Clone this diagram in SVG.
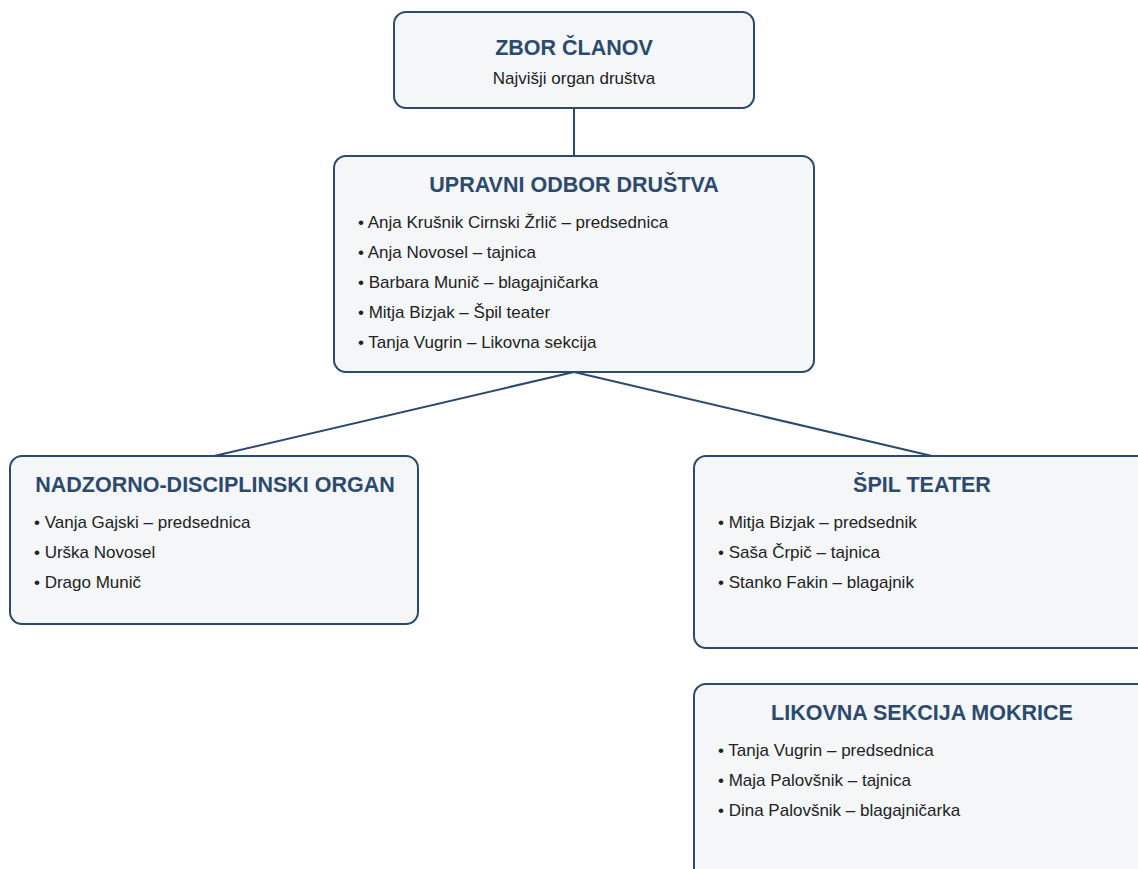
<svg xmlns="http://www.w3.org/2000/svg" width="1138" height="869" viewBox="0 0 1138 869">
<style>
.box{fill:#f4f6f8;stroke:#2c4a6e;stroke-width:2}
.title{font-family:"Liberation Sans",Arial,sans-serif;font-weight:bold;font-size:21.5px;fill:#2c4a6e;text-anchor:middle}
.sub{font-family:"Liberation Sans",Arial,sans-serif;font-size:17px;fill:#222}
.item{font-family:"Liberation Sans",Arial,sans-serif;font-size:17px;fill:#222}
.conn{stroke:#2c4a6e;stroke-width:2;fill:none}
</style>
<rect width="1138" height="869" fill="#ffffff"/>
<g id="connectors">
<line class="conn" x1="574" y1="108" x2="574" y2="156"/>
<line class="conn" x1="574" y1="372" x2="214" y2="456"/>
<line class="conn" x1="574" y1="372" x2="932" y2="456"/>
</g>
<g id="zbor">
<rect class="box" x="394" y="12" width="360" height="96" rx="12"/>
<text class="title" x="574" y="55">ZBOR ČLANOV</text>
<text class="sub" x="574" y="84" text-anchor="middle">Najvišji organ društva</text>
</g>
<g id="upravni">
<rect class="box" x="334" y="156" width="480" height="216" rx="12"/>
<text class="title" x="574" y="192">UPRAVNI ODBOR DRUŠTVA</text>
<text class="item" x="358" y="228">• Anja Krušnik Cirnski Žrlič – predsednica</text>
<text class="item" x="358" y="258">• Anja Novosel – tajnica</text>
<text class="item" x="358" y="288">• Barbara Munič – blagajničarka</text>
<text class="item" x="358" y="318">• Mitja Bizjak – Špil teater</text>
<text class="item" x="358" y="348">• Tanja Vugrin – Likovna sekcija</text>
</g>
<g id="nadzorni">
<rect class="box" x="10" y="456" width="408" height="168" rx="12"/>
<text class="title" x="215" y="492">NADZORNO-DISCIPLINSKI ORGAN</text>
<text class="item" x="34" y="528">• Vanja Gajski – predsednica</text>
<text class="item" x="34" y="558">• Urška Novosel</text>
<text class="item" x="34" y="588">• Drago Munič</text>
</g>
<g id="spil">
<rect class="box" x="694" y="456" width="470" height="192" rx="12"/>
<text class="title" x="922" y="492">ŠPIL TEATER</text>
<text class="item" x="718" y="528">• Mitja Bizjak – predsednik</text>
<text class="item" x="718" y="558">• Saša Črpič – tajnica</text>
<text class="item" x="718" y="588">• Stanko Fakin – blagajnik</text>
</g>
<g id="likovna">
<rect class="box" x="694" y="684" width="470" height="210" rx="12"/>
<text class="title" x="922" y="720">LIKOVNA SEKCIJA MOKRICE</text>
<text class="item" x="718" y="756">• Tanja Vugrin – predsednica</text>
<text class="item" x="718" y="786">• Maja Palovšnik – tajnica</text>
<text class="item" x="718" y="816">• Dina Palovšnik – blagajničarka</text>
</g>
</svg>
